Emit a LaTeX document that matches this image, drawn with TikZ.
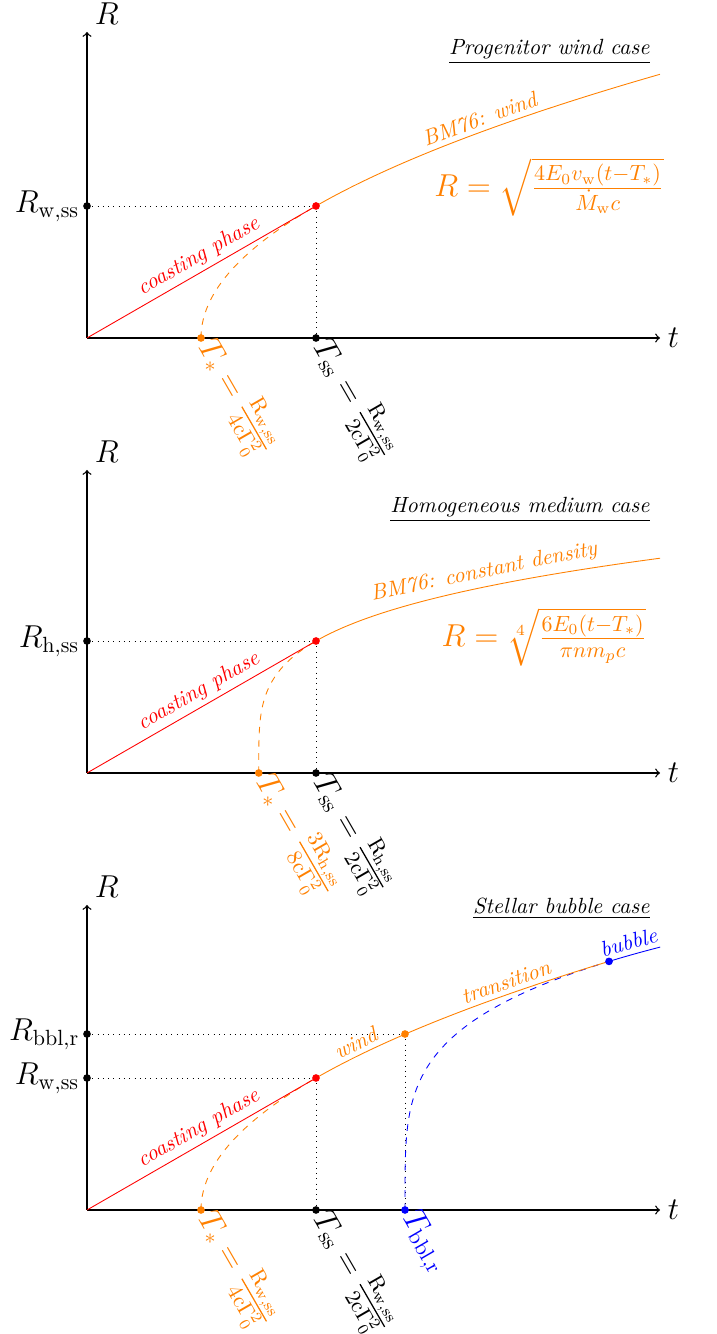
\documentclass[tikz,border=0pt]{standalone}
\usepackage{amsmath}
\begin{document}
\begin{tikzpicture}[x=0.4545pt,y=0.4545pt,
  axis/.style={semithick,->},
  dotm/.style={circle,fill,inner sep=0pt,minimum size=3.5pt},
  guide/.style={dotted},
  ttl/.style={anchor=south east,inner sep=0pt,font=\itshape},
  curvelab/.style={anchor=south,inner sep=2pt,font=\itshape},
  tlab/.style={rotate=-60,anchor=west,inner sep=2.2pt,font=\Large},
  rlab/.style={anchor=east,font=\Large},
  axlab/.style={font=\Large},
  formula/.style={orange,font=\Large}
]
\useasboundingbox (0,0) rectangle (716,1334);

% ---------------- Panel 1 : progenitor wind ----------------
\begin{scope}[shift={(87,996)}]
\coordinate (o1) at (0,0);
\coordinate (ya1) at (0,306);
\coordinate (xa1) at (573,0);
\coordinate (rws1) at (0,132);
\coordinate (ss1) at (229,132);
\coordinate (tss1) at (229,0);
\coordinate (ts1) at (114,0);
\draw[axis] (o1) -- (ya1);
\draw[axis] (o1) -- (xa1);
\node[axlab,anchor=south west] (Rax1) at (ya1) {$R$};
\node[axlab,anchor=west] (tax1) at (xa1) {$t$};
\draw[guide] (rws1) -- (ss1);
\draw[guide] (ss1) -- (tss1);
\draw[orange,dashed] plot[variable=\q,domain=0:132,samples=60] ({114+115*(\q/132)^2},\q);
\draw[orange] plot[variable=\q,domain=132:263.7,samples=60] ({114+115*(\q/132)^2},\q);
\draw[red] (o1) -- node[sloped,curvelab,pos=0.52] (cl1) {coasting phase} (ss1);
\node[dotm] (drws1) at (rws1) {};
\node[dotm,red] (dss1) at (ss1) {};
\node[dotm] (dtss1) at (tss1) {};
\node[dotm,orange] (dts1) at (ts1) {};
\node[rlab] (lrws1) at (rws1) {$R_{\mathrm{w,ss}}$};
\node[curvelab,orange,rotate=20.2] (bm1) at (397,207) {BM76: wind};
\node[formula] (f1) at (462,151) {$R=\sqrt{\frac{4E_0v_{\mathrm{w}}(t-T_*)}{\dot{M}_{\mathrm{w}}c}}$};
\node[ttl] (ti1) at (563,274) {\underline{Progenitor wind case}};
\node[tlab,orange] (lts1) at (ts1) {$T_{*}=\frac{\mathrm{R_{w,ss}}}{\mathrm{4c\Gamma_0^2}}$};
\node[tlab] (ltss1) at (tss1) {$T_{\mathrm{ss}}=\frac{\mathrm{R_{w,ss}}}{\mathrm{2c\Gamma_0^2}}$};
\end{scope}

% ---------------- Panel 2 : homogeneous medium ----------------
\begin{scope}[shift={(87,561)}]
\coordinate (o2) at (0,0);
\coordinate (ya2) at (0,303);
\coordinate (xa2) at (573,0);
\coordinate (rhs2) at (0,132);
\coordinate (ss2) at (229,132);
\coordinate (tss2) at (229,0);
\coordinate (ts2) at (171.75,0);
\draw[axis] (o2) -- (ya2);
\draw[axis] (o2) -- (xa2);
\node[axlab,anchor=south west] (Rax2) at (ya2) {$R$};
\node[axlab,anchor=west] (tax2) at (xa2) {$t$};
\draw[guide] (rhs2) -- (ss2);
\draw[guide] (ss2) -- (tss2);
\draw[orange,dashed] plot[variable=\q,domain=0:132,samples=60] ({171.75+57.25*(\q/132)^4},\q);
\draw[orange] plot[variable=\q,domain=132:214.8,samples=60] ({171.75+57.25*(\q/132)^4},\q);
\draw[red] (o2) -- node[sloped,curvelab,pos=0.52] (cl2) {coasting phase} (ss2);
\node[dotm] (drhs2) at (rhs2) {};
\node[dotm,red] (dss2) at (ss2) {};
\node[dotm] (dtss2) at (tss2) {};
\node[dotm,orange] (dts2) at (ts2) {};
\node[rlab] (lrhs2) at (rhs2) {$R_{\mathrm{h,ss}}$};
\node[curvelab,orange,rotate=11.4] (bm2) at (400,186.5) {BM76: constant density};
\node[formula] (f2) at (457,136) {$R=\sqrt[4]{\frac{6E_0(t-T_*)}{\pi n m_p c}}$};
\node[ttl] (ti2) at (563,251) {\underline{Homogeneous medium case}};
\node[tlab,orange] (lts2) at (ts2) {$T_{*}=\frac{\mathrm{3R_{h,ss}}}{\mathrm{8c\Gamma_0^2}}$};
\node[tlab] (ltss2) at (tss2) {$T_{\mathrm{ss}}=\frac{\mathrm{R_{h,ss}}}{\mathrm{2c\Gamma_0^2}}$};
\end{scope}

% ---------------- Panel 3 : stellar bubble ----------------
\begin{scope}[shift={(87,124)}]
\coordinate (o3) at (0,0);
\coordinate (ya3) at (0,305);
\coordinate (xa3) at (573,0);
\coordinate (rws3) at (0,132);
\coordinate (rbb3) at (0,176);
\coordinate (ss3) at (229,132);
\coordinate (tss3) at (229,0);
\coordinate (ts3) at (114,0);
\coordinate (bb3) at (318,176);
\coordinate (tb3) at (318,0);
\coordinate (bd3) at (522,248.6);
\draw[axis] (o3) -- (ya3);
\draw[axis] (o3) -- (xa3);
\node[axlab,anchor=south west] (Rax3) at (ya3) {$R$};
\node[axlab,anchor=west] (tax3) at (xa3) {$t$};
\draw[guide] (rws3) -- (ss3);
\draw[guide] (ss3) -- (tss3);
\draw[guide] (rbb3) -- (bb3);
\draw[guide] (bb3) -- (tb3);
\draw[orange,dashed] plot[variable=\q,domain=0:132,samples=60] ({114+115*(\q/132)^2},\q);
\draw[blue,dashed] plot[variable=\q,domain=0:248.6,samples=80] ({318+204*(\q/248.6)^4},\q);
\draw[orange] plot[variable=\q,domain=132:248.6,samples=60] ({114+115*(\q/132)^2},\q);
\draw[blue] plot[variable=\q,domain=248.6:262.9,samples=20] ({318+204*(\q/248.6)^4},\q);
\draw[red] (o3) -- node[sloped,curvelab,pos=0.52] (cl3) {coasting phase} (ss3);
\node[dotm] (drws3) at (rws3) {};
\node[dotm] (drbb3) at (rbb3) {};
\node[dotm,red] (dss3) at (ss3) {};
\node[dotm] (dtss3) at (tss3) {};
\node[dotm,orange] (dts3) at (ts3) {};
\node[dotm,orange] (dbb3) at (bb3) {};
\node[dotm,blue] (dtb3) at (tb3) {};
\node[dotm,blue] (dbd3) at (bd3) {};
\node[rlab] (lrws3) at (rws3) {$R_{\mathrm{w,ss}}$};
\node[rlab] (lrbb3) at (rbb3) {$R_{\mathrm{bbl,r}}$};
\node[curvelab,orange,rotate=25.9] (wl3) at (274,155.7) {wind};
\node[curvelab,orange,rotate=19.3] (tr3) at (423,216.4) {transition};
\node[curvelab,blue,rotate=15.7] (bu3) at (545,255.4) {bubble};
\node[ttl] (ti3) at (563,291) {\underline{Stellar bubble case}};
\node[tlab,orange] (lts3) at (ts3) {$T_{*}=\frac{\mathrm{R_{w,ss}}}{\mathrm{4c\Gamma_0^2}}$};
\node[tlab] (ltss3) at (tss3) {$T_{\mathrm{ss}}=\frac{\mathrm{R_{w,ss}}}{\mathrm{2c\Gamma_0^2}}$};
\node[tlab,blue] (ltb3) at (tb3) {$T_{\mathrm{bbl,r}}$};
\end{scope}
\end{tikzpicture}
\end{document}
